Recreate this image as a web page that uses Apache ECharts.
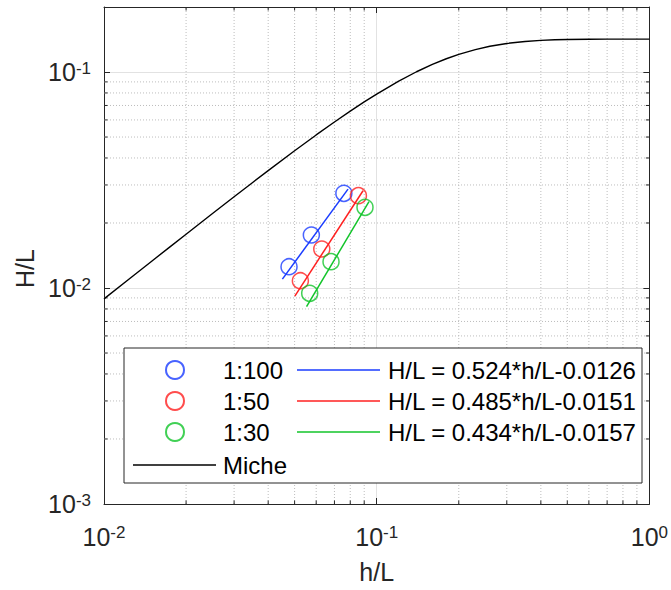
<!DOCTYPE html>
<html><head><meta charset="utf-8">
<script src="https://cdn.jsdelivr.net/npm/echarts@6/dist/echarts.min.js"></script>
<style>html,body{margin:0;padding:0;background:#fff}#c{width:671px;height:590px}</style>
</head><body><div id="c"></div>
<script>
// ---- axis ranges ----
const xMin = 0.01, xMax = 1, yMin = 0.001, yMax = 0.2;
const minorX = [0.02,0.03,0.04,0.05,0.06,0.07,0.08,0.09,0.2,0.3,0.4,0.5,0.6,0.7,0.8,0.9];
const minorY = [0.002,0.003,0.004,0.005,0.006,0.007,0.008,0.009,0.02,0.03,0.04,0.05,0.06,0.07,0.08,0.09];

// ---- Miche curve ----
const micheX = [0.01,0.0125,0.015,0.0175,0.02,0.025,0.03,0.035,0.04,0.05,0.06,0.07,0.08,0.09,0.1,0.12,0.14,0.16,0.18,0.2,0.23,0.26,0.3,0.35,0.4,0.45,0.5,0.6,0.7,0.8,1.0];
const micheY = [0.00891,0.01113,0.01334,0.01555,0.01775,0.02212,0.02645,0.03073,0.03496,0.04320,0.05113,0.05872,0.06592,0.07271,0.07908,0.09053,0.10029,0.10846,0.11521,0.12072,0.12705,0.13157,0.13560,0.13855,0.14015,0.14101,0.14147,0.14185,0.14196,0.14199,0.14200];

// ---- measured points ----
const names = ['1:100', '1:50', '1:30'];
const fitNames = ['H/L = 0.524*h/L-0.0126', 'H/L = 0.485*h/L-0.0151', 'H/L = 0.434*h/L-0.0157'];
const colors = ['#1a3cff', '#ff2020', '#12c42a'];
const ptX100 = [0.0477, 0.0576, 0.0758];
const ptY100 = [0.01255, 0.01759, 0.02744];
const ptX50 = [0.0525, 0.0629, 0.0857];
const ptY50 = [0.01081, 0.01516, 0.02676];
const ptX30 = [0.0568, 0.0680, 0.0906];
const ptY30 = [0.00945, 0.01324, 0.02363];
// ---- fitted line end points ----
const fitX100 = [0.0451, 0.0785], fitY100 = [0.0110, 0.0287];
const fitX50 = [0.0501, 0.0891], fitY50 = [0.00918, 0.0282];
const fitX30 = [0.0553, 0.0937], fitY30 = [0.00819, 0.0251];

const FONT = '"Liberation Sans", Arial, Helvetica, sans-serif';
const AX = '#262626';
const zip = (a, b) => a.map((v, i) => [v, b[i]]);
const ptsX = [ptX100, ptX50, ptX30], ptsY = [ptY100, ptY50, ptY30];
const fX = [fitX100, fitX50, fitX30], fY = [fitY100, fitY50, fitY30];

function isDecade(v) { const l = Math.log10(v); return Math.abs(l - Math.round(l)) < 1e-6; }
function fmt(v) { if (!isDecade(v)) return ''; return '{b|10}{s|' + Math.round(Math.log10(v)) + '}'; }
const rich = {
  b: { fontSize: 25, fontFamily: FONT, color: AX, lineHeight: 25, padding: [8, 0, 0, 0], verticalAlign: 'bottom' },
  s: { fontSize: 17, fontFamily: FONT, color: AX, lineHeight: 17, verticalAlign: 'top' }
};

function baseAxis(isX, pos, main) {
  return {
    type: 'log', logBase: 10, position: pos,
    min: isX ? xMin : yMin, max: isX ? xMax : yMax,
    axisLine: { show: true, lineStyle: { color: AX, width: 1 } },
    axisTick: { show: true, inside: true, length: 6, lineStyle: { color: AX, width: 1 } },
    axisLabel: main ? { show: true, formatter: fmt, rich: rich, margin: isX ? 20 : 13 } : { show: false },
    splitLine: main ? { show: true, lineStyle: { color: '#e2e2e2', width: 1 } } : { show: false },
    minorTick: { show: false }
  };
}
const xMain = baseAxis(true, 'bottom', true);
xMain.name = 'h/L'; xMain.nameLocation = 'middle'; xMain.nameGap = 55;
xMain.nameTextStyle = { fontSize: 25, fontFamily: FONT, color: AX };
const yMain = baseAxis(false, 'left', true);
yMain.name = 'H/L'; yMain.nameLocation = 'middle'; yMain.nameGap = 66; yMain.nameRotate = 90;
yMain.nameTextStyle = { fontSize: 25, fontFamily: FONT, color: AX, padding: [0, 26, 0, 0] };

const series = [];
// minor grid + minor ticks (x)
series.push({
  type: 'custom', name: 'minorX', silent: true, z: 1, clip: false,
  data: minorX.map(v => [v, yMin]),
  encode: { x: 0, y: 1 },
  renderItem: (p, api) => {
    const v = api.value(0);
    const a = api.coord([v, yMin]), b = api.coord([v, yMax]);
    return { type: 'group', children: [
      { type: 'line', shape: { x1: a[0], y1: a[1], x2: b[0], y2: b[1] }, style: { stroke: '#bdbdbd', lineWidth: 1, lineDash: [1, 2] } },
      { type: 'line', shape: { x1: a[0], y1: a[1], x2: a[0], y2: a[1] - 3.5 }, style: { stroke: AX, lineWidth: 1 } },
      { type: 'line', shape: { x1: b[0], y1: b[1], x2: b[0], y2: b[1] + 3.5 }, style: { stroke: AX, lineWidth: 1 } }
    ] };
  }
});
series.push({
  type: 'custom', name: 'minorY', silent: true, z: 1, clip: false,
  data: minorY.map(v => [xMin, v]),
  encode: { x: 0, y: 1 },
  renderItem: (p, api) => {
    const v = api.value(1);
    const a = api.coord([xMin, v]), b = api.coord([xMax, v]);
    return { type: 'group', children: [
      { type: 'line', shape: { x1: a[0], y1: a[1], x2: b[0], y2: b[1] }, style: { stroke: '#bdbdbd', lineWidth: 1, lineDash: [1, 2] } },
      { type: 'line', shape: { x1: a[0], y1: a[1], x2: a[0] + 3.5, y2: a[1] }, style: { stroke: AX, lineWidth: 1 } },
      { type: 'line', shape: { x1: b[0], y1: b[1], x2: b[0] - 3.5, y2: b[1] }, style: { stroke: AX, lineWidth: 1 } }
    ] };
  }
});
for (let i = 0; i < 3; i++) {
  series.push({
    type: 'scatter', name: names[i], data: zip(ptsX[i], ptsY[i]),
    symbol: 'circle', symbolSize: 16, z: 5,
    itemStyle: { color: 'rgba(255,255,255,0)', borderColor: colors[i], borderWidth: 1.5 },
    emphasis: { disabled: true }
  });
  series.push({
    type: 'line', name: fitNames[i], data: zip(fX[i], fY[i]),
    symbol: 'none', z: 4,
    lineStyle: { color: colors[i], width: 1.5 }, itemStyle: { color: colors[i] },
    emphasis: { disabled: true }
  });
}
series.push({
  type: 'line', name: 'Miche', data: zip(micheX, micheY), symbol: 'none', z: 4,
  lineStyle: { color: '#000', width: 1.4 }, itemStyle: { color: '#000' },
  emphasis: { disabled: true }
});

const legText = { fontSize: 24, fontFamily: FONT, color: '#000', lineHeight: 22 };
const option = {
  animation: false,
  backgroundColor: '#fff',
  grid: { left: 104, right: 21, top: 7, bottom: 86 },
  xAxis: [xMain, baseAxis(true, 'top', false)],
  yAxis: [yMain, baseAxis(false, 'right', false)],
  graphic: [{ type: 'rect', z: 3, shape: { x: 124, y: 348, width: 518, height: 135 },
    style: { fill: '#fff', stroke: AX, lineWidth: 1 } }],
  legend: [
    { data: names, orient: 'vertical', left: 165, top: 358, padding: 0, itemGap: 7,
      itemWidth: 18, itemHeight: 18, textStyle: Object.assign({ padding: [0, 0, 0, 34] }, legText),
      selectedMode: false, z: 6 },
    { data: fitNames.map((n, i) => ({ name: n, icon: 'rect', itemStyle: { color: colors[i] } })),
      orient: 'vertical', left: 297, top: 358, padding: 0, itemGap: 7,
      itemWidth: 83, itemHeight: 1.6, textStyle: Object.assign({ padding: [0, 0, 0, 3] }, legText),
      selectedMode: false, z: 6 },
    { data: [{ name: 'Miche', icon: 'rect', itemStyle: { color: '#000' } }], orient: 'vertical', left: 133, top: 453, padding: 0,
      itemWidth: 83, itemHeight: 1.6, textStyle: Object.assign({ padding: [0, 0, 0, 2] }, legText),
      selectedMode: false, z: 6 }
  ],
  series: series
};
const chart = echarts.init(document.getElementById('c'), null, { renderer: 'svg' });
chart.setOption(option);
</script></body></html>
